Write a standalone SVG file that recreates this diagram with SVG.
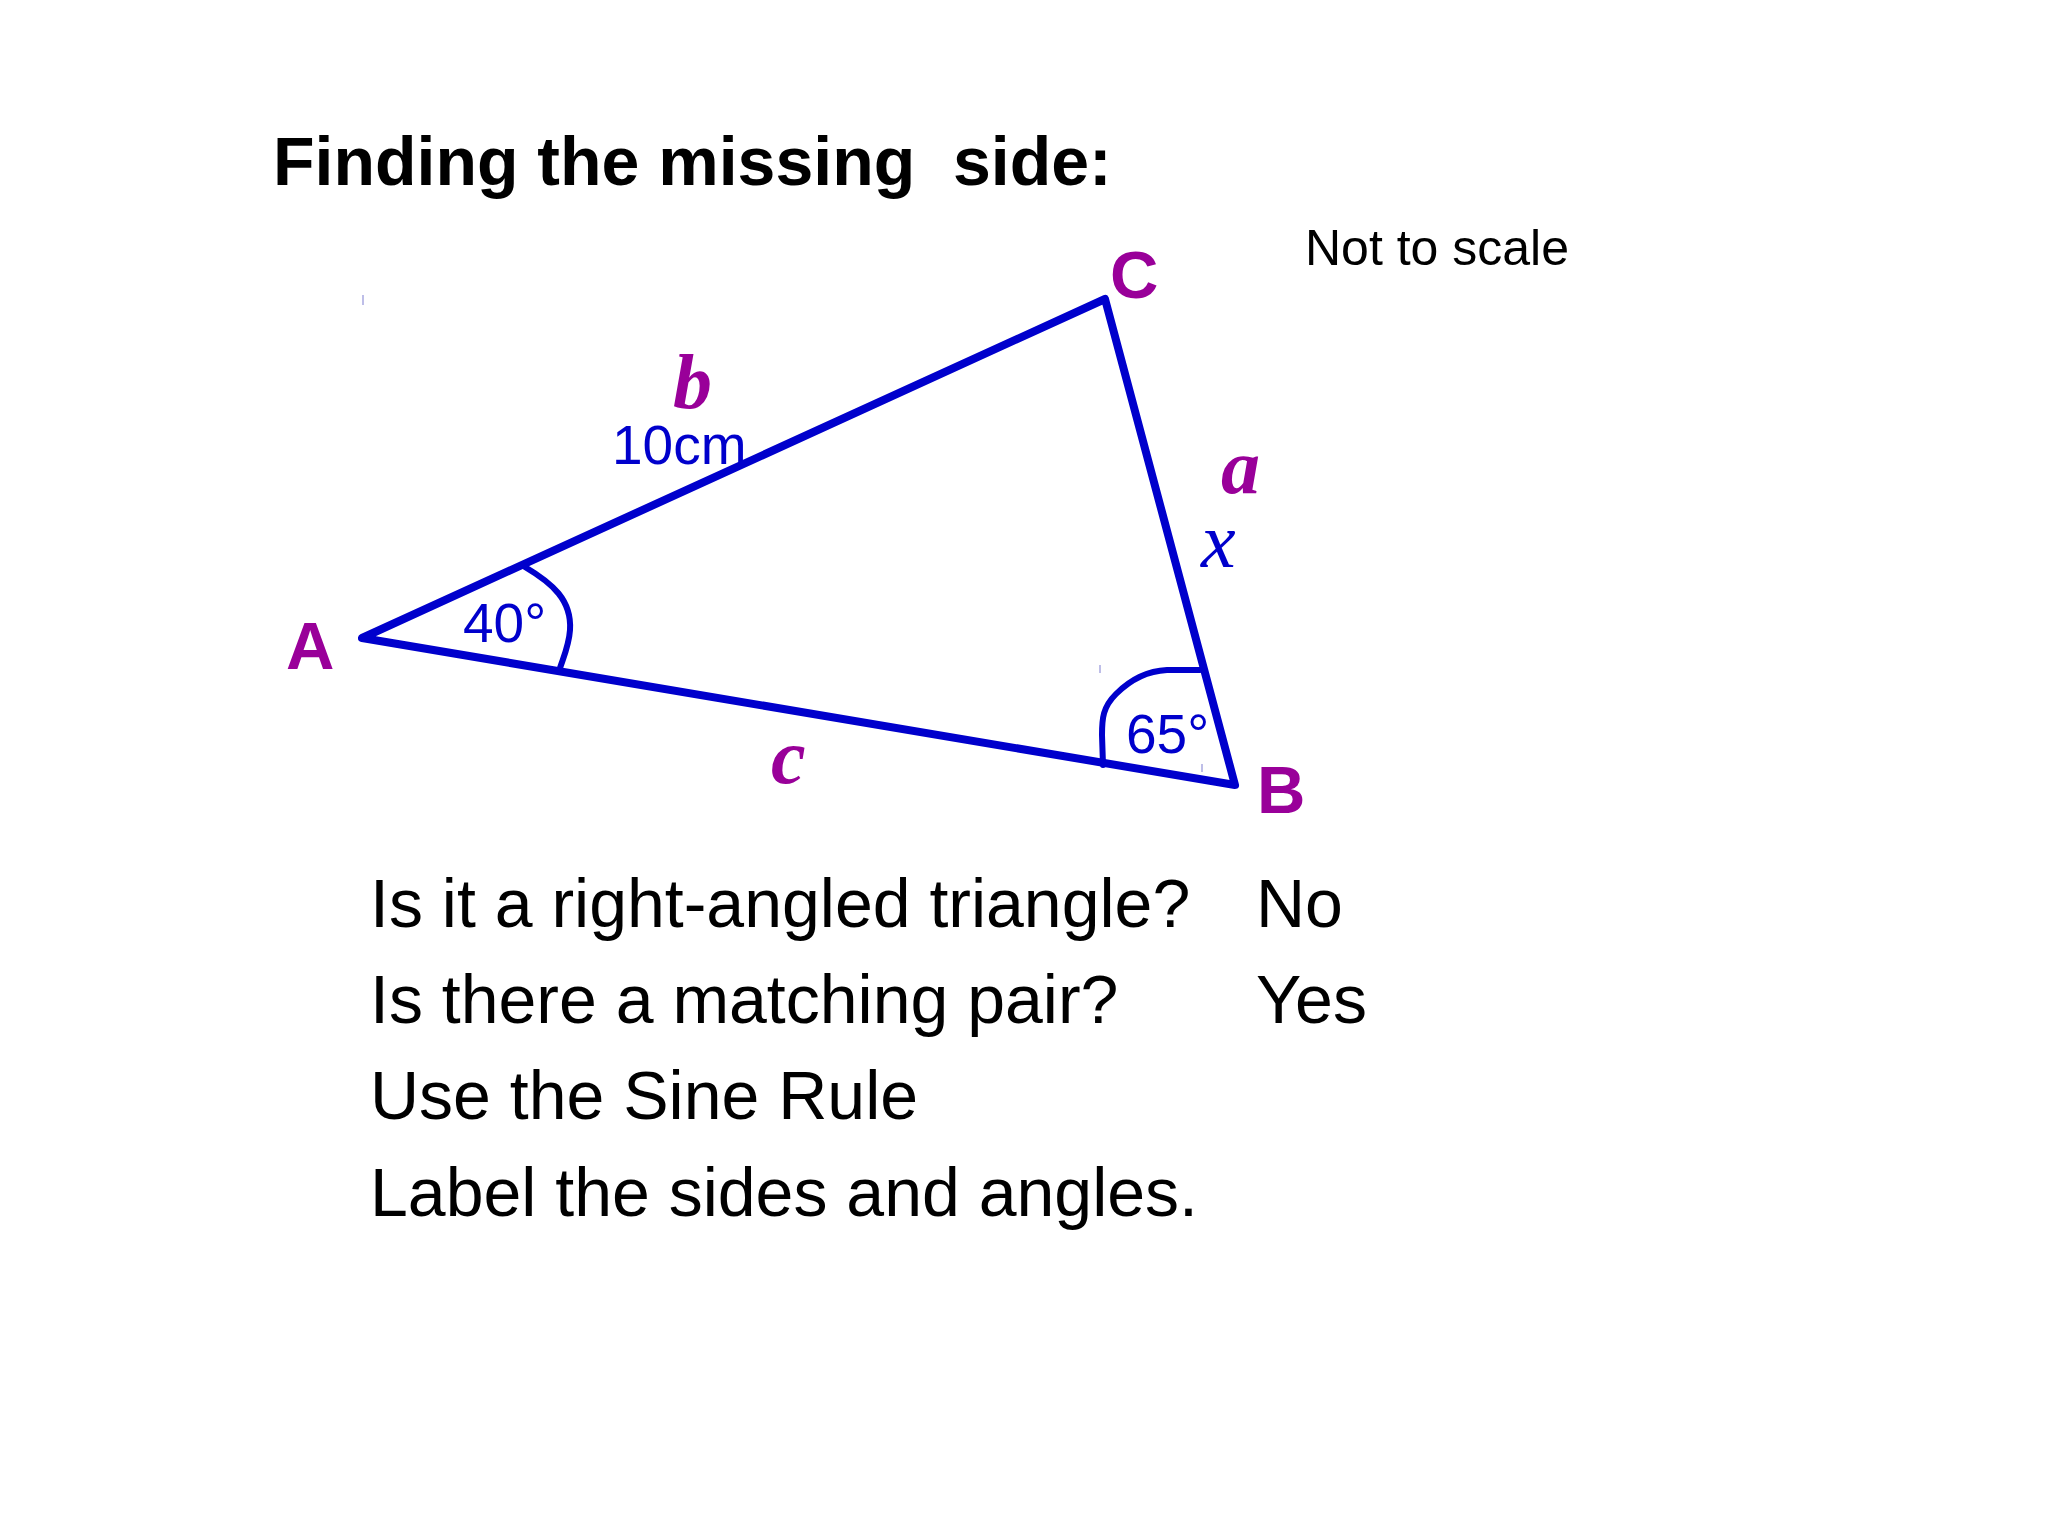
<svg xmlns="http://www.w3.org/2000/svg" width="2048" height="1536" viewBox="0 0 2048 1536">
<style>
.sans{font-family:"Liberation Sans",Arial,sans-serif}
.title{font-size:68px;font-weight:bold;fill:#000;white-space:pre}
.body{font-size:68px;fill:#000}
.vertex{font-size:67px;font-weight:bold;fill:#990099}
.side{font-family:"Liberation Serif","Times New Roman",serif;font-style:italic;font-weight:bold;font-size:78px;fill:#990099}
.blue{fill:#0000cc}
.edge{stroke:#0000cc;stroke-width:8;fill:none;stroke-linejoin:round;stroke-linecap:round}
.mark{stroke:#0000cc;stroke-width:6;fill:none;stroke-linecap:round}
.tick{stroke:#a8a8e0;stroke-width:1.5}
</style>
<rect width="2048" height="1536" fill="#ffffff"/>
<text class="sans title" x="273" y="185" xml:space="preserve">Finding the missing  side:</text>
<text class="sans" x="1305" y="265" font-size="50" fill="#000">Not to scale</text>
<g id="connectors">
<polygon class="edge" points="362,638 1105,299 1235,785"/>
</g>
<g id="angleA">
<path class="mark" d="M525,567 C552,583 572,600 570,630 C569,645 564,656 560,668"/>
<text class="sans blue" x="463" y="642" font-size="55">40°</text>
</g>
<g id="angleB">
<path class="mark" d="M1200,670 L1167,670 C1145,671 1128,682 1116,694 C1103,707 1102,718 1102,735 L1103,765"/>
<text class="sans blue" x="1126" y="753" font-size="55">65°</text>
</g>
<g id="vertexA"><text class="sans vertex" x="286" y="669">A</text></g>
<g id="vertexB"><text class="sans vertex" x="1257" y="813">B</text></g>
<g id="vertexC"><text class="sans vertex" x="1110" y="298">C</text></g>
<g id="sideB">
<text class="side" x="673" y="408">b</text>
<text class="sans blue" x="612" y="464" font-size="55">10cm</text>
</g>
<g id="sideA">
<text class="side" x="1221" y="493">a</text>
<text x="1201" y="567" font-family="'Liberation Serif','Times New Roman',serif" font-style="italic" font-size="78" fill="#0000cc">x</text>
</g>
<g id="sideC"><text class="side" x="771" y="783">c</text></g>
<g id="ticks">
<line class="tick" x1="363" y1="295" x2="363" y2="305"/>
<line class="tick" x1="1100" y1="665" x2="1100" y2="673"/>
<line class="tick" x1="1202" y1="764" x2="1202" y2="772"/>
</g>
<g id="questions">
<text class="sans body" x="370" y="927">Is it a right-angled triangle?</text>
<text class="sans body" x="1256" y="927">No</text>
<text class="sans body" x="370" y="1023">Is there a matching pair?</text>
<text class="sans body" x="1256" y="1023">Yes</text>
<text class="sans body" x="370" y="1119">Use the Sine Rule</text>
<text class="sans body" x="370" y="1216">Label the sides and angles.</text>
</g>
</svg>
